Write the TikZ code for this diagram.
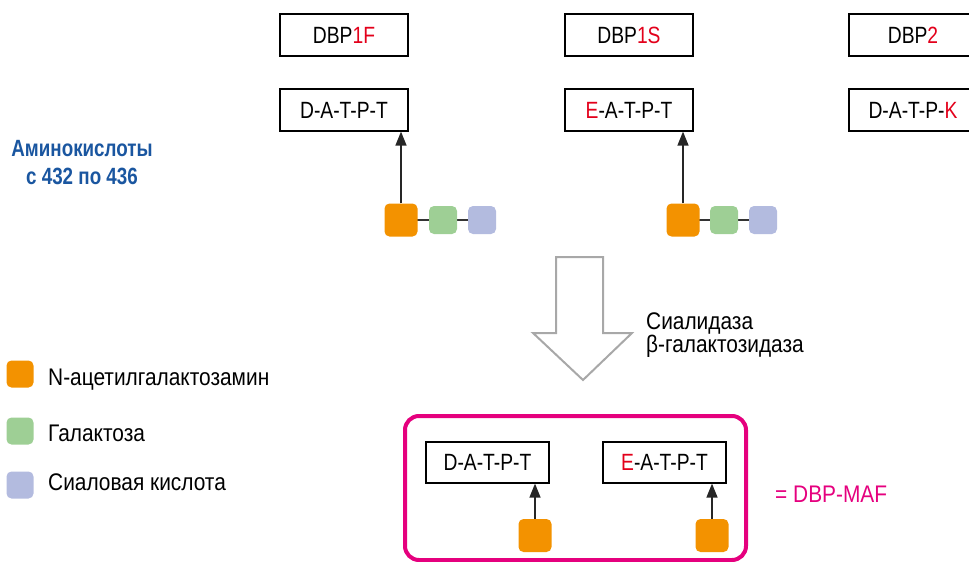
\documentclass[tikz,border=0pt]{standalone}
\usepackage{fontspec}
\setmainfont{Liberation Sans}[FakeStretch=0.82]
\newfontfamily\widecond{Liberation Sans}[FakeStretch=0.87]
\newfontfamily\boldcond{Liberation Sans Bold}[FakeStretch=0.8]
\usetikzlibrary{arrows.meta}
\definecolor{redtxt}{HTML}{E3001B}
\definecolor{orangesq}{HTML}{F39200}
\definecolor{greensq}{HTML}{9ECF95}
\definecolor{bluesq}{HTML}{B3BBDF}
\definecolor{labelblue}{HTML}{1A56A0}
\definecolor{magentabox}{HTML}{E5007E}
\definecolor{grayarrow}{HTML}{A8A8A8}
\tikzset{
  seqbox/.style={draw=black, line width=1.2pt, fill=white, minimum width=128pt, minimum height=42pt, inner sep=0pt, font=\fontsize{23.5}{26}\selectfont},
  smallseq/.style={seqbox, minimum width=123pt, minimum height=41pt},
  sugar/.style={rounded corners=5pt, minimum width=#1, minimum height=#1, inner sep=0pt, draw=none},
  galnac/.style={sugar=33pt, fill=orangesq},
  gal/.style={sugar=28pt, fill=greensq},
  sia/.style={sugar=28pt, fill=bluesq},
  legsq/.style={sugar=27pt},
  txt/.style={font=\widecond\fontsize{24}{26}\selectfont, inner sep=0pt, anchor=base west},
  bond/.style={line width=1.5pt, draw=black!80},
  uparrow/.style={line width=1.5pt, draw=black!85, -{Triangle[length=14pt, width=11pt]}},
}
\begin{document}
\begin{tikzpicture}[x=1pt, y=-1pt]
\useasboundingbox (0,0) rectangle (969,562);
% top boxes
\node[seqbox] (n1) at (344,35) {DBP\textcolor{redtxt}{1F}};
\node[seqbox] (s1) at (344,110) {D-A-T-P-T};
\node[seqbox] (n2) at (629,35) {DBP\textcolor{redtxt}{1S}};
\node[seqbox] (s2) at (629,110) {\textcolor{redtxt}{E}-A-T-P-T};
\node[seqbox] (n3) at (913,35) {DBP\textcolor{redtxt}{2}};
\node[seqbox] (s3) at (913,110) {D-A-T-P-\textcolor{redtxt}{K}};
% sugar chains
\coordinate (c1o) at (401,220);
\coordinate (c1s) at (482,220);
\draw[bond] (c1o) -- (c1s);
\node[galnac] (o1) at (c1o) {};
\node[gal] (g1) at (443,220) {};
\node[sia] (a1) at (c1s) {};
\coordinate (c2o) at (683,220);
\coordinate (c2s) at (763,220);
\draw[bond] (c2o) -- (c2s);
\node[galnac] (o2) at (c2o) {};
\node[gal] (g2) at (724,220) {};
\node[sia] (a2) at (c2s) {};
\draw[uparrow] (o1.north) -- (o1.north |- s1.south);
\draw[uparrow] (o2.north) -- (o2.north |- s2.south);
% label
\node[font=\boldcond\fontsize{23.5}{26}\selectfont, text=labelblue, inner sep=0pt, anchor=base] (lab1) at (82,156) {Аминокислоты};
\node[font=\boldcond\fontsize{23.5}{26}\selectfont, text=labelblue, inner sep=0pt, anchor=base] (lab2) at (82,184) {с 432 по 436};
% big hollow arrow
\draw[grayarrow, line width=2pt, line join=miter] (556,257) -- (603,257) -- (603,333) -- (632,333) -- (583,380) -- (533,333) -- (556,333) -- cycle;
\node[txt] (enz1) at (646,329) {Сиалидаза};
\node[txt] (enz2) at (646,352) {β-галактозидаза};
% legend
\node[legsq, fill=orangesq] (lo) at (20,374) {};
\node[legsq, fill=greensq] (lg) at (20,431) {};
\node[legsq, fill=bluesq] (lb) at (20,485) {};
\node[txt] (lto) at (48,385) {N-ацетилгалактозамин};
\node[txt] (ltg) at (48,441) {Галактоза};
\node[txt] (ltb) at (48,490) {Сиаловая кислота};
% result box
\draw[magentabox, line width=4pt, rounded corners=14pt] (405,416) rectangle (746,560);
\node[smallseq] (r1) at (487.5,462.5) {D-A-T-P-T};
\node[smallseq] (r2) at (664.5,462.5) {\textcolor{redtxt}{E}-A-T-P-T};
\node[galnac] (ro1) at (535,535.5) {};
\node[galnac] (ro2) at (712,535.5) {};
\draw[uparrow] (ro1.north) -- (ro1.north |- r1.south);
\draw[uparrow] (ro2.north) -- (ro2.north |- r2.south);
\node[txt, text=magentabox] (maf) at (775,502) {= DBP-MAF};
\end{tikzpicture}
\end{document}
